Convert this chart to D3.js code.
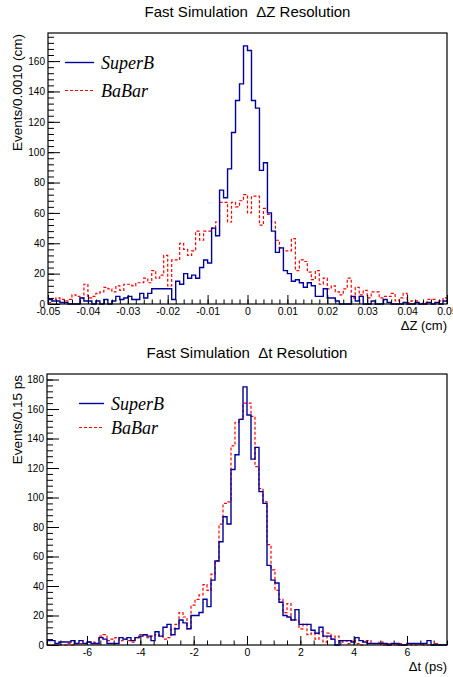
<!DOCTYPE html>
<html>
<head>
<meta charset="utf-8">
<script src="https://cdn.jsdelivr.net/npm/d3@7"></script>
<style>
  body { margin: 0; background: #fff; }
  text { font-family: "Liberation Sans", Arial, sans-serif; }
  .legend text { font-family: "Liberation Serif", "Times New Roman", serif; font-style: italic; }
</style>
</head>
<body>
<svg id="chart" width="453" height="677"></svg>
<script>
// ---- ΔZ histogram: 100 bins of 0.0010 cm from -0.05 to 0.05
const dzRange = [-0.05, 0.05];
const dzSuperB = [
  3, 2, 2, 1, 1, 0, 0, 0, 4, 2, 2, 0, 2, 0, 3, 0, 2, 5, 3, 4,
  5, 3, 3, 7, 4, 7, 10, 10, 10, 10, 10, 3, 15, 13, 20, 17, 19, 17, 24, 29,
  27, 50, 45, 75, 70, 89, 113, 134, 145, 170, 167, 134, 129, 88, 93, 60, 48, 34, 37, 22,
  20, 15, 16, 14, 11, 14, 12, 5, 5, 10, 4, 4, 2, 0, 0, 0, 5, 2, 5, 0,
  0, 2, 0, 0, 3, 1, 0, 0, 0, 1, 0, 0, 1, 0, 0, 1, 0, 1, 0, 2
];
const dzBaBar = [
  1, 3, 4, 3, 2, 3, 6, 5, 4, 13, 4, 5, 7, 8, 11, 10, 8, 12, 9, 13,
  13, 12, 14, 14, 17, 14, 22, 17, 19, 32, 12, 29, 29, 40, 36, 32, 35, 48, 42, 48,
  48, 50, 54, 67, 67, 54, 67, 64, 68, 72, 60, 71, 71, 52, 63, 59, 54, 42, 37, 35,
  35, 43, 22, 29, 28, 21, 16, 22, 13, 17, 10, 12, 8, 6, 10, 17, 4, 11, 6, 9,
  4, 8, 8, 4, 5, 5, 7, 2, 4, 7, 1, 2, 2, 0, 1, 3, 3, 1, 2, 4
];
const dzTicks = [-0.05, -0.04, -0.03, -0.02, -0.01, 0, 0.01, 0.02, 0.03, 0.04, 0.05];
const dzTickLabels = ["-0.05", "-0.04", "-0.03", "-0.02", "-0.01", "0", "0.01", "0.02", "0.03", "0.04", "0.05"];

// ---- Δt histogram: 100 bins of 0.15 ps from -7.5 to 7.5
const dtRange = [-7.5, 7.5];
const dtSuperB = [
  3, 3, 1, 2, 2, 2, 3, 1, 3, 1, 2, 1, 1, 5, 4, 1, 1, 1, 5, 4,
  5, 3, 5, 6, 7, 6, 3, 9, 6, 12, 14, 7, 11, 17, 15, 11, 20, 20, 22, 31,
  26, 44, 57, 70, 87, 82, 119, 129, 153, 175, 156, 126, 134, 104, 96, 54, 44, 42, 29, 20,
  19, 17, 24, 14, 14, 14, 10, 8, 12, 6, 6, 4, 0, 3, 3, 3, 2, 5, 3, 2,
  1, 1, 1, 1, 1, 0, 1, 1, 0, 0, 1, 1, 1, 1, 1, 3, 0, 0, 0, 0
];
const dtBaBar = [
  0, 0, 1, 0, 0, 1, 0, 1, 1, 1, 2, 2, 1, 6, 7, 3, 4, 5, 3, 4,
  3, 2, 5, 7, 7, 5, 6, 7, 6, 4, 5, 11, 14, 22, 19, 11, 27, 31, 34, 41,
  37, 48, 57, 82, 96, 97, 135, 151, 153, 164, 164, 155, 121, 106, 97, 68, 51, 37, 31, 22,
  28, 17, 17, 11, 14, 7, 8, 4, 9, 2, 8, 4, 6, 2, 3, 1, 3, 1, 0, 3,
  3, 1, 1, 2, 0, 1, 1, 0, 1, 0, 1, 0, 0, 1, 0, 0, 0, 1, 0, 0
];
const dtTicks = [-6, -4, -2, 0, 2, 4, 6];
const dtTickLabels = ["-6", "-4", "-2", "0", "2", "4", "6"];

const yTicks = [0, 20, 40, 60, 80, 100, 120, 140, 160, 180];
const seriesNames = ["SuperB", "BaBar"];

const svg = d3.select("#chart");

function drawPanel(cfg) {
  const g = svg.append("g");
  const nBins = cfg.superB.length;
  const binW = (cfg.range[1] - cfg.range[0]) / nBins;
  const yMax = 1.05 * d3.max([...cfg.superB, ...cfg.babar]);

  const x = d3.scaleLinear().domain(cfg.range).range([cfg.left, cfg.right]);
  const y = d3.scaleLinear().domain([0, yMax]).range([cfg.bottom, cfg.top]);

  // title
  g.append("text")
    .attr("x", (cfg.left + cfg.right) / 2)
    .attr("y", cfg.titleY)
    .attr("text-anchor", "middle")
    .style("font-size", "15px")
    .style("white-space", "pre")
    .text(cfg.title);

  // histograms as step outlines
  const stepLine = d3.line()
    .x(d => x(d[0]))
    .y(d => y(d[1]))
    .curve(d3.curveStepAfter);
  const pts = vals => {
    const p = vals.map((v, i) => [cfg.range[0] + i * binW, v]);
    p.push([cfg.range[1], vals[vals.length - 1]]);
    return p;
  };

  g.append("path")
    .attr("d", stepLine(pts(cfg.babar)))
    .attr("fill", "none")
    .attr("stroke", "#ff0000")
    .attr("stroke-width", 1.2)
    .attr("stroke-dasharray", "3,2");

  g.append("path")
    .attr("d", stepLine(pts(cfg.superB)))
    .attr("fill", "none")
    .attr("stroke", "#000099")
    .attr("stroke-width", 1.4);

  // y axis, ticks pointing inward
  const yMinor = d3.range(0, yMax, 4);
  g.append("g")
    .attr("transform", `translate(${cfg.left},0)`)
    .call(d3.axisLeft(y).tickValues(yMinor).tickSize(-6).tickFormat(""))
    .call(a => a.select(".domain").remove());
  g.append("g")
    .attr("transform", `translate(${cfg.left},0)`)
    .call(d3.axisLeft(y).tickValues(yTicks.filter(t => t <= yMax)).tickSize(-12).tickPadding(3))
    .call(a => a.select(".domain").remove())
    .call(a => a.selectAll("text").style("font-size", "10px").attr("fill", "#000"));

  // x axis
  const xMinor = d3.range(cfg.range[0], cfg.range[1] + binW / 2, cfg.minorStep);
  g.append("g")
    .attr("transform", `translate(0,${cfg.bottom})`)
    .call(d3.axisBottom(x).tickValues(xMinor).tickSize(-4.5).tickFormat(""))
    .call(a => a.select(".domain").remove());
  g.append("g")
    .attr("transform", `translate(0,${cfg.bottom})`)
    .call(d3.axisBottom(x).tickValues(cfg.ticks).tickSize(-9).tickPadding(4)
      .tickFormat((d, i) => cfg.tickLabels[i]))
    .call(a => a.select(".domain").remove())
    .call(a => a.selectAll("text").style("font-size", "10.5px").attr("fill", "#000"));

  // frame
  g.append("rect")
    .attr("x", cfg.left).attr("y", cfg.top)
    .attr("width", cfg.right - cfg.left).attr("height", cfg.bottom - cfg.top)
    .attr("fill", "none").attr("stroke", "#000").attr("stroke-width", 1.2);

  // axis titles
  g.append("text")
    .attr("x", cfg.right)
    .attr("y", cfg.bottom + 26)
    .attr("text-anchor", "end")
    .style("font-size", "13px")
    .text(cfg.xTitle);

  g.append("text")
    .attr("transform", `translate(22,${cfg.top + 1}) rotate(-90)`)
    .attr("text-anchor", "end")
    .style("font-size", "13.5px")
    .text(cfg.yTitle);

  // legend
  const leg = g.append("g").attr("class", "legend");
  const styles = [
    { stroke: "#000099", dash: null, w: 1.4 },
    { stroke: "#ff0000", dash: "3,2", w: 1.2 }
  ];
  seriesNames.forEach((name, i) => {
    const ly = cfg.legY + i * cfg.legGap;
    leg.append("line")
      .attr("x1", cfg.legX).attr("x2", cfg.legX + cfg.legLen)
      .attr("y1", ly).attr("y2", ly)
      .attr("stroke", styles[i].stroke)
      .attr("stroke-width", styles[i].w)
      .attr("stroke-dasharray", styles[i].dash);
    leg.append("text")
      .attr("x", cfg.legX + cfg.legLen + 7)
      .attr("y", ly + 6)
      .style("font-size", "18px")
      .text(name);
  });
}

drawPanel({
  range: dzRange, superB: dzSuperB, babar: dzBaBar,
  ticks: dzTicks, tickLabels: dzTickLabels, minorStep: 0.002,
  left: 48, right: 447, top: 33, bottom: 304, titleY: 17,
  title: "Fast Simulation  \u0394Z Resolution",
  xTitle: "\u0394Z (cm)", yTitle: "Events/0.0010 (cm)",
  legX: 65, legLen: 29, legY: 62.5, legGap: 28
});

drawPanel({
  range: dtRange, superB: dtSuperB, babar: dtBaBar,
  ticks: dtTicks, tickLabels: dtTickLabels, minorStep: 0.5,
  left: 47, right: 447, top: 374, bottom: 645, titleY: 358,
  title: "Fast Simulation  \u0394t Resolution",
  xTitle: "\u0394t (ps)", yTitle: "Events/0.15 ps",
  legX: 79, legLen: 25, legY: 403.5, legGap: 24
});
</script>
</body>
</html>
